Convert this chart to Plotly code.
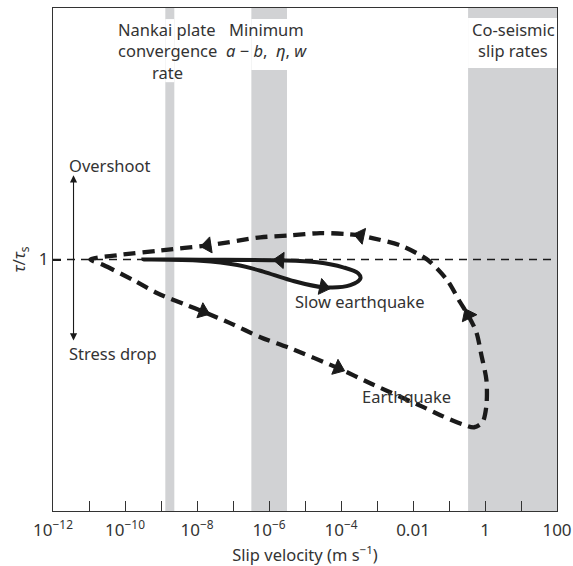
import plotly.graph_objects as go

# ---------------- data ----------------
# Earthquake cycle path: log10 slip velocity (m/s) and tau/tau_s
eq_logv = [-10.96, -10.60, -9.77, -9.10, -8.27, -7.83, -7.08, -6.24, -5.41, -4.08,
           -3.19, -1.71, -1.24, -0.63, -0.30, -0.07, 0.04, 0.04, -0.10, -0.24,
           -0.47, -0.69, -1.05, -1.58, -2.35, -3.10, -3.46, -3.83, -4.58, -5.41,
           -6.24, -7.71, -9.02, -10.21, -10.96]
eq_tau = [1.000, 0.978, 0.918, 0.866, 0.818, 0.793, 0.747, 0.691, 0.647, 0.568,
          0.508, 0.413, 0.381, 0.345, 0.333, 0.353, 0.421, 0.520, 0.620, 0.711,
          0.779, 0.830, 0.918, 0.997, 1.056, 1.084, 1.095, 1.101, 1.105, 1.096,
          1.088, 1.056, 1.036, 1.017, 1.000]
eq_arrow_idx = [5, 9, 20, 26, 31]

# Slow earthquake path
sl_logv = [-9.49, -7.91, -6.88, -6.16, -5.41, -4.49, -3.74, -3.46, -3.52, -3.94,
           -4.66, -5.69, -7.91, -9.49]
sl_tau = [1.000, 0.995, 0.978, 0.952, 0.918, 0.890, 0.898, 0.925, 0.945, 0.969,
          0.989, 0.997, 0.999, 1.000]
sl_arrow_idx = [5, 11]

# Shaded velocity bands (log10 m/s)
band_names = ["Nankai", "Minimum", "Coseismic"]
band_lo = [-8.88, -6.49, -0.47]
band_hi = [-8.63, -5.50, 2.0]

# Axis ticks
tick_exp = list(range(-12, 3))
tick_text = {-12: "10<sup>−12</sup>", -10: "10<sup>−10</sup>", -8: "10<sup>−8</sup>",
             -6: "10<sup>−6</sup>", -4: "10<sup>−4</sup>", -2: "0.01", 0: "1", 2: "100"}

# ---------------- figure ----------------
INK = "#1a1a1a"
TXT = "#333333"
GREY = "#d1d2d4"
FONT = "Noto Sans"
FS = 16.5

eq_v = [10 ** e for e in eq_logv]
sl_v = [10 ** e for e in sl_logv]

fig = go.Figure()

# reference line tau/tau_s = 1
fig.add_trace(go.Scatter(x=[10 ** -12, 10 ** 2], y=[1, 1], mode="lines",
                         line=dict(color=INK, width=1.4, dash="8px,6px"),
                         hoverinfo="skip", showlegend=False))

# earthquake
fig.add_trace(go.Scatter(x=eq_v, y=eq_tau, mode="lines",
                         line=dict(color=INK, width=4.3, dash="12px,7px",
                                   shape="spline", smoothing=0.8),
                         hoverinfo="skip", showlegend=False))
# slow earthquake
fig.add_trace(go.Scatter(x=sl_v, y=sl_tau, mode="lines",
                         line=dict(color=INK, width=4, shape="spline", smoothing=1.0),
                         hoverinfo="skip", showlegend=False))


def arrow_trace(xs, ys, idxs):
    ax, ay, sz = [], [], []
    for i in idxs:
        ax += [xs[i - 1], xs[i]]
        ay += [ys[i - 1], ys[i]]
        sz += [0, 14]
    return go.Scatter(x=ax, y=ay, mode="markers",
                      marker=dict(symbol="triangle-up", size=sz, color=INK, opacity=1,
                                  angleref="previous", line=dict(width=1, color=INK)),
                      hoverinfo="skip", showlegend=False)


fig.add_trace(arrow_trace(eq_v, eq_tau, eq_arrow_idx))
fig.add_trace(arrow_trace(sl_v, sl_tau, sl_arrow_idx))

# bands
shapes = []
for lo, hi in zip(band_lo, band_hi):
    shapes.append(dict(type="rect", xref="x", yref="y", x0=10 ** lo, x1=10 ** hi,
                       y0=0, y1=2, fillcolor=GREY, line=dict(width=0), layer="below"))
# white boxes behind band labels (tau units)
box_y = [(1.705, 1.956), (1.753, 1.956), (1.761, 1.960)]
for (lo, hi), (y0, y1) in zip(zip(band_lo, band_hi), box_y):
    shapes.append(dict(type="rect", xref="x", yref="y", x0=10 ** lo, x1=10 ** hi,
                       y0=y0, y1=y1, fillcolor="white", line=dict(width=0), layer="below"))

ann = []


def txt(x, y, s, xanchor="center", size=FS):
    ann.append(dict(x=x, y=y, xref="x", yref="y", text=s, showarrow=False,
                    xanchor=xanchor, yanchor="middle",
                    font=dict(family=FONT, size=size, color=TXT)))


txt(-8.825, 1.916, "Nankai plate")
txt(-8.825, 1.832, "convergence")
txt(-8.825, 1.745, "rate")
txt(-6.06, 1.916, "Minimum")
txt(-6.06, 1.832, "<i>a</i> − <i>b</i>,  <i>η</i>, <i>w</i>")
txt(0.78, 1.916, "Co-seismic")
txt(0.78, 1.830, "slip rates")
txt(-11.62, 1.372, "Overshoot", xanchor="left")
txt(-11.62, 0.627, "Stress drop", xanchor="left")
txt(-5.33, 0.832, "Slow earthquake", xanchor="left")
txt(-3.46, 0.454, "Earthquake", xanchor="left")

# double-headed arrow Overshoot / Stress drop
ann.append(dict(x=-11.43, y=1.335, ax=-11.43, ay=0.672, xref="x", yref="y",
                axref="x", ayref="y", text="", showarrow=True, arrowhead=2,
                arrowside="end+start", arrowsize=1.3, arrowwidth=1.1, arrowcolor=INK))

fig.update_layout(
    width=573, height=566,
    margin=dict(l=53, r=16, t=8, b=55),
    paper_bgcolor="white", plot_bgcolor="white",
    shapes=shapes, annotations=ann,
    font=dict(family=FONT, size=FS, color=TXT),
    xaxis=dict(type="log", range=[-12, 2], automargin=False,
               tickvals=[10 ** e for e in tick_exp],
               ticktext=[tick_text.get(e, "") for e in tick_exp],
               ticks="inside", ticklen=10, tickcolor=TXT, tickwidth=1,
               ticklabelstandoff=4,
               showline=True, linecolor=TXT, linewidth=1, mirror=True,
               showgrid=False, zeroline=False,
               tickfont=dict(family=FONT, size=17, color=TXT),
               title=dict(text="Slip velocity (m s<sup>−1</sup>)", standoff=18,
                          font=dict(family=FONT, size=FS, color=TXT))),
    yaxis=dict(range=[0, 2], tickvals=[1], ticktext=["1"], automargin=False,
               ticks="inside", ticklen=8, tickcolor=INK, tickwidth=1.5,
               showline=True, linecolor=TXT, linewidth=1, mirror=True,
               showgrid=False, zeroline=False,
               tickfont=dict(family=FONT, size=17, color=TXT),
               title=dict(text="<i>τ</i>/<i>τ</i><sub>s</sub>", standoff=8,
                          font=dict(family=FONT, size=17, color=TXT))),
)

fig.write_html("out.html")
